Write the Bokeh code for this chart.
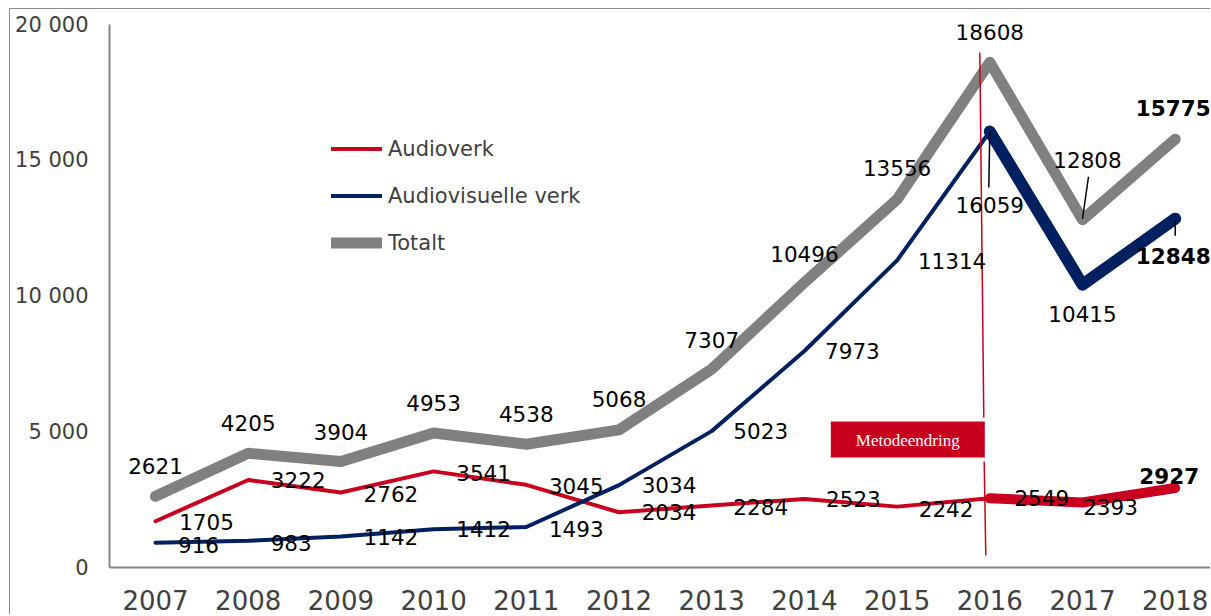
from bokeh.plotting import figure
from bokeh.models import (ColumnDataSource, Range1d, FixedTicker, CustomJSTickFormatter,
                          Legend, LegendItem, BoxAnnotation, Label)
from bokeh.core.properties import value
from bokeh.embed import file_html
from bokeh.resources import INLINE

# ---------------- data ----------------
years = [2007, 2008, 2009, 2010, 2011, 2012, 2013, 2014, 2015, 2016, 2017, 2018]
audioverk = [1705, 3222, 2762, 3541, 3045, 2034, 2284, 2523, 2242, 2549, 2393, 2927]
audiovisuelle = [916, 983, 1142, 1412, 1493, 3034, 5023, 7973, 11314, 16059, 10415, 12848]
totalt = [2621, 4205, 3904, 4953, 4538, 5068, 7307, 10496, 13556, 18608, 12808, 15775]
y_ticks = [0, 5000, 10000, 15000, 20000]
series_names = ["Audioverk", "Audiovisuelle verk", "Totalt"]
method_change_year = 2016
method_label = "Metodeendring"

# ---------------- layout / style ----------------
OFF_X, OFF_Y = 10, 9            # canvas origin on the page (after outer border)
W, H = 1211 - OFF_X, 615 - OFF_Y
PAGE_FRAME_LEFT, PAGE_FRAME_TOP, PAGE_FRAME_BOTTOM = 109, 24, 567
LEFT = PAGE_FRAME_LEFT - OFF_X
TOP = PAGE_FRAME_TOP - OFF_Y
BOTTOM = H - (PAGE_FRAME_BOTTOM - OFF_Y)
FRAME_W = W - LEFT
FRAME_H = H - TOP - BOTTOM
PX_PER_YEAR = 92.7
X_START = years[0] - 46 / PX_PER_YEAR
X_END = X_START + FRAME_W / PX_PER_YEAR
Y_MAX = y_ticks[-1]
PX_PER_UNIT = FRAME_H / Y_MAX

RED = "#C8001E"
NAVY = "#002060"
GRAY = "#808080"
TXT = "#404040"
FONT = "DejaVu Sans"
LBL_SIZE = "21.5px"
TICK_SIZE = "21px"

p = figure(width=W, height=H, output_backend="svg", toolbar_location=None,
           x_range=Range1d(X_START, X_END), y_range=Range1d(0, Y_MAX),
           min_border_left=LEFT, min_border_top=TOP, min_border_bottom=BOTTOM,
           min_border_right=0, background_fill_color="white",
           border_fill_color="white")
# outer chart border: left and top edges only
p.styles = {"margin-left": f"{OFF_X - 1}px", "margin-top": f"{OFF_Y - 1}px",
            "border-left": "1px solid #8c8c8c", "border-top": "1px solid #8c8c8c"}
p.outline_line_color = None
p.xgrid.visible = False
p.ygrid.visible = False

# axes
p.xaxis.ticker = FixedTicker(ticks=years)
p.yaxis.ticker = FixedTicker(ticks=y_ticks)
p.yaxis.formatter = CustomJSTickFormatter(
    code="return tick.toString().replace(/\\B(?=(\\d{3})+(?!\\d))/g, ' ');")
for ax in (p.xaxis, p.yaxis):
    ax.axis_line_color = "#868686"
    ax.axis_line_width = 2
    ax.major_tick_line_color = None
    ax.minor_tick_line_color = None
    ax.major_tick_out = 0
    ax.major_tick_in = 0
    ax.major_label_text_color = TXT
    ax.major_label_text_font = FONT
p.xaxis.major_label_text_font_size = "26px"
p.xaxis.major_label_text_line_height = 0.7
p.xaxis.major_label_standoff = 22
p.yaxis.major_label_text_font_size = TICK_SIZE
p.yaxis.major_label_standoff = 21

k = years.index(method_change_year)

# lines
r_tot = p.line(years, totalt, line_color=GRAY, line_width=11,
               line_cap="round", line_join="round")
r_a = p.line(years[:k + 1], audioverk[:k + 1], line_color=RED, line_width=4,
             line_cap="round", line_join="round")
p.line(years[k:], audioverk[k:], line_color=RED, line_width=10,
       line_cap="round", line_join="round")
r_av = p.line(years[:k + 1], audiovisuelle[:k + 1], line_color=NAVY, line_width=4,
              line_cap="round", line_join="round")
p.line(years[k:], audiovisuelle[k:], line_color=NAVY, line_width=12,
       line_cap="round", line_join="round")

# method change marker (vertical line with gap + box)
def xo(px):
    return method_change_year + px / PX_PER_YEAR

def yv(page_y):
    return (PAGE_FRAME_BOTTOM - page_y) / PX_PER_UNIT

p.segment(x0=[xo(-10), xo(-5.6)], y0=[yv(52), yv(461)],
          x1=[xo(-6), xo(-4)], y1=[yv(417), yv(555)],
          line_color=RED, line_width=1.5)
p.add_layout(BoxAnnotation(left=xo(-159), right=xo(-5), bottom=yv(457), top=yv(421),
                           fill_color=RED, fill_alpha=1, line_alpha=0))
p.add_layout(Label(x=xo(-82), y=yv(440), text=method_label, text_color="white",
                   text_font="Liberation Serif", text_font_size="17px",
                   text_align="center", text_baseline="middle"))

# leader lines (screen-pixel offsets from the data points)
def leader(vals, i, dx0, dy0, dx1, dy1):
    return (years[i] + dx0 / PX_PER_YEAR, vals[i] - dy0 / PX_PER_UNIT,
            years[i] + dx1 / PX_PER_YEAR, vals[i] - dy1 / PX_PER_UNIT)

leads = [leader(audiovisuelle, 9, 0, 0, -1, 56),
         leader(totalt, 10, 0, -1, 6, -43),
         leader(audiovisuelle, 11, 0, 1, 0, 17)]
p.segment(x0=[l[0] for l in leads], y0=[l[1] for l in leads],
          x1=[l[2] for l in leads], y1=[l[3] for l in leads],
          line_color="black", line_width=1.5)

# data labels
tot_dx = [0, 0, 0, 0, 0, 0, 0, 0, 0, 0, 5, -2]
tot_dy = [-30, -30, -30, -30, -30, -31, -29, -29, -31, -30, -60, -31]
av_dx = [43, 43, 50, 50, 50, 50, 49, 48, 55, 0, 0, -2]
av_dy = [2, 2, 1, 0, 2, 0, 0, 0, 1, 74, 29, 37]
a_dx = [51, 50, 50, 50, 50, 50, 49, 49, 49, 52, 28, -6]
a_dy = [1, 0, 1, 2, 1, 0, 2, 0, 2, 0, 4, -12]
last_bold = ["normal"] * (len(years) - 1) + ["bold"]

for vals, dx, dy in ((totalt, tot_dx, tot_dy), (audiovisuelle, av_dx, av_dy),
                     (audioverk, a_dx, a_dy)):
    src = ColumnDataSource(dict(x=years, y=vals, t=[str(v) for v in vals],
                                dx=dx, dy=dy, fs=last_bold))
    p.text(x="x", y="y", text="t", x_offset="dx", y_offset="dy",
           text_font_style="fs", source=src, text_color="black",
           text_font=value(FONT), text_font_size=LBL_SIZE,
           text_align="center", text_baseline="middle")

# legend
legend = Legend(items=[LegendItem(label=series_names[0], renderers=[r_a]),
                       LegendItem(label=series_names[1], renderers=[r_av]),
                       LegendItem(label=series_names[2], renderers=[r_tot])],
                location=(222, 312), orientation="vertical",
                glyph_width=51, glyph_height=25, label_height=25, spacing=22,
                label_standoff=6, padding=0, margin=0,
                label_text_font=FONT, label_text_font_size=TICK_SIZE,
                label_text_color=TXT, border_line_color=None,
                background_fill_alpha=0)
p.add_layout(legend)

open("out.html", "w").write(file_html(p, INLINE))
